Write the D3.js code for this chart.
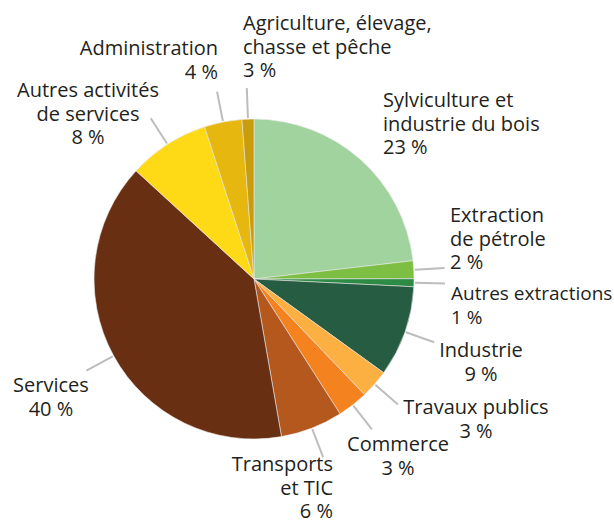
<!DOCTYPE html>
<html>
<head>
<meta charset="utf-8">
<script src="https://cdn.jsdelivr.net/npm/d3@7"></script>
<style>
  body { margin: 0; background: #fff; }
  text { font-family: "Open Sans", sans-serif; fill: #231f20; }
</style>
</head>
<body>
<svg id="chart"></svg>
<script>
const width = 614;
const height = 522;

// Sectors, clockwise from 12 o'clock
const sectors = [
  "Sylviculture et industrie du bois",
  "Extraction de pétrole",
  "Autres extractions",
  "Industrie",
  "Travaux publics",
  "Commerce",
  "Transports et TIC",
  "Services",
  "Autres activités de services",
  "Administration",
  "Agriculture, élevage, chasse et pêche",
];
// Share measured from slice angles (%)
const shares = [23.2, 1.8, 0.8, 9.2, 2.9, 3.1, 6.3, 39.6, 8.2, 3.8, 1.2];
// Printed labels
const labelLines = [
  ["Sylviculture et", "industrie du bois", "23 %"],
  ["Extraction", "de pétrole", "2 %"],
  ["Autres extractions", "1 %"],
  ["Industrie", "9 %"],
  ["Travaux publics", "3 %"],
  ["Commerce", "3 %"],
  ["Transports", "et TIC", "6 %"],
  ["Services", "40 %"],
  ["Autres activités", "de services", "8 %"],
  ["Administration", "4 %"],
  ["Agriculture, élevage,", "chasse et pêche", "3 %"],
];

const colors = [
  "#a0d39d", "#7cbf43", "#2e8b45", "#265c41", "#fbb041", "#f4831f",
  "#b4581d", "#692f12", "#fdd916", "#e6b70e", "#c99c0b",
];

// label anchor point, alignment, and whether a leader line is drawn
const labelPos = [
  { x: 383, y: 107, anchor: "start", leader: false, size: 20 },
  { x: 450, y: 222, anchor: "start", leader: true, size: 20 },
  { x: 451, y: 300, anchor: "start", leader: true, size: 19 },
  { x: 481, y: 357, anchor: "middle", leader: true, size: 20 },
  { x: 476, y: 414, anchor: "middle", leader: true, size: 20 },
  { x: 398, y: 451, anchor: "middle", leader: true, size: 20 },
  { x: 333, y: 471, anchor: "end", leader: true, size: 20 },
  { x: 51, y: 392, anchor: "middle", leader: true, size: 20 },
  { x: 88, y: 97, anchor: "middle", leader: true, size: 20 },
  { x: 218, y: 55, anchor: "end", leader: true, size: 20 },
  { x: 243, y: 30, anchor: "start", leader: true, size: 20 },
];

const cx = 254, cy = 279, radius = 160;

const svg = d3.select("#chart").attr("width", width).attr("height", height);

const pie = d3.pie().sort(null).value((d) => d.value);
const arc = d3.arc().innerRadius(0).outerRadius(radius);

const data = sectors.map((s, i) => ({ name: s, value: shares[i], i }));
const arcs = pie(data);

const g = svg.append("g").attr("transform", `translate(${cx},${cy})`);

g.selectAll("path")
  .data(arcs)
  .enter()
  .append("path")
  .attr("d", arc)
  .attr("fill", (d) => colors[d.data.i])
  .attr("stroke", "#e8e8e8")
  .attr("stroke-width", 0.6);

// leader lines
const inner = d3.arc().innerRadius(radius + 1).outerRadius(radius + 1);
const outer = d3.arc().innerRadius(radius + 31).outerRadius(radius + 31);
g.selectAll("line.leader")
  .data(arcs.filter((d) => labelPos[d.data.i].leader))
  .enter()
  .append("line")
  .attr("class", "leader")
  .attr("x1", (d) => inner.centroid(d)[0])
  .attr("y1", (d) => inner.centroid(d)[1])
  .attr("x2", (d) => outer.centroid(d)[0])
  .attr("y2", (d) => outer.centroid(d)[1])
  .attr("stroke", "#bdbdbd")
  .attr("stroke-width", 2);

// labels
const labels = svg.selectAll("text.label")
  .data(data)
  .enter()
  .append("text")
  .attr("class", "label")
  .attr("font-size", (d) => labelPos[d.i].size)
  .attr("text-anchor", (d) => labelPos[d.i].anchor)
  .attr("x", (d) => labelPos[d.i].x)
  .attr("y", (d) => labelPos[d.i].y);

labels.selectAll("tspan")
  .data((d) => labelLines[d.i].map((t) => ({ t, p: labelPos[d.i] })))
  .enter()
  .append("tspan")
  .attr("x", (d) => d.p.x)
  .attr("dy", (d, j) => (j === 0 ? 0 : 23.5))
  .text((d) => d.t);
</script>
</body>
</html>
